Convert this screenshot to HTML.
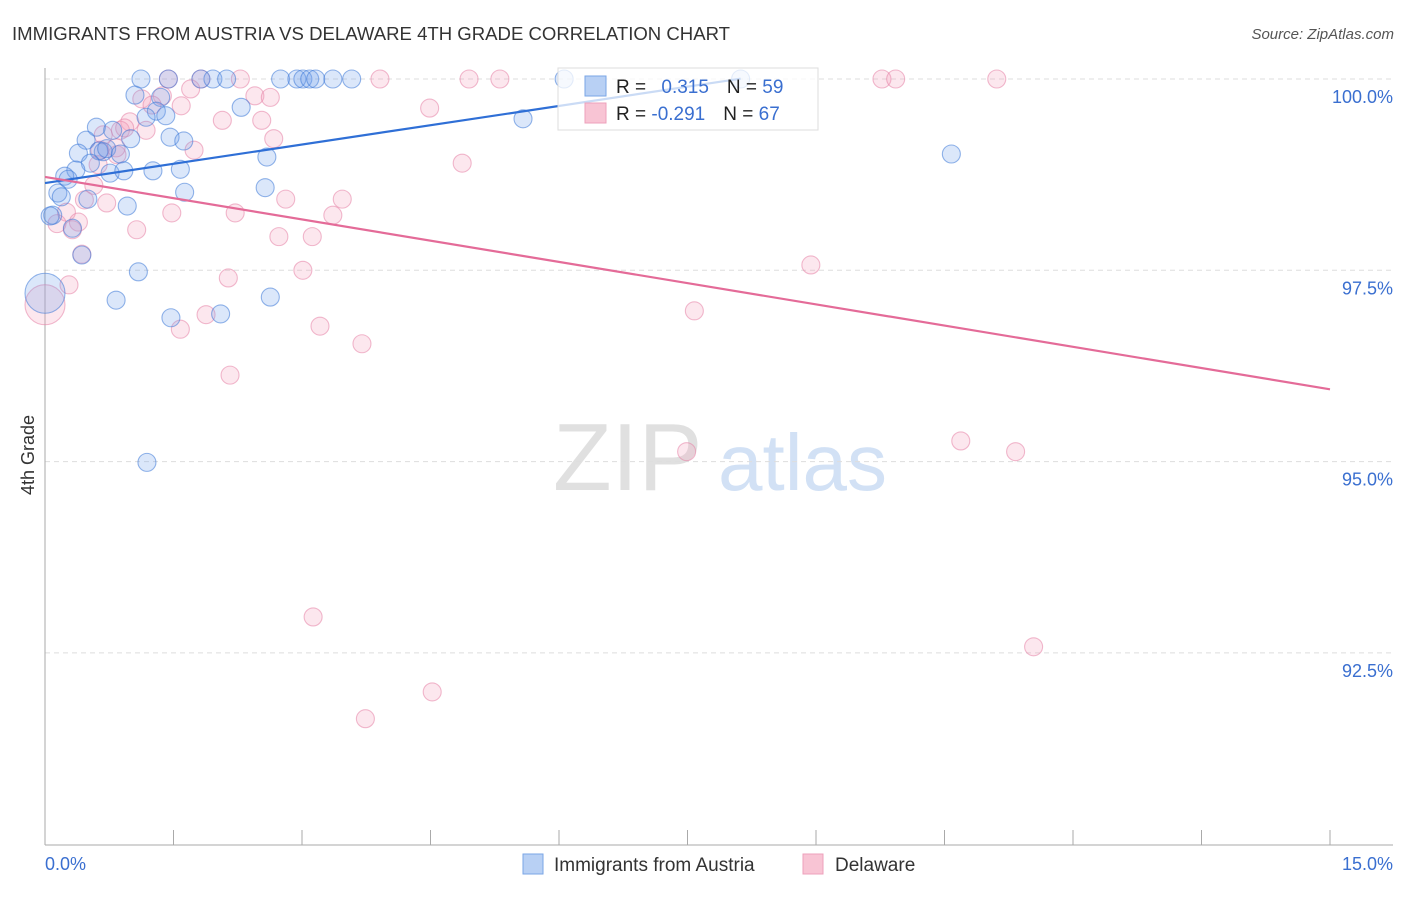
<!DOCTYPE html>
<html><head><meta charset="utf-8"><style>
body{margin:0;background:#fff;font-family:"Liberation Sans",sans-serif}
svg text{font-family:"Liberation Sans",sans-serif}
</style></head><body>
<svg id="c" width="1406" height="892" viewBox="0 0 1406 892">
<text x="12" y="40" font-size="18" fill="#333" textLength="718" lengthAdjust="spacingAndGlyphs">IMMIGRANTS FROM AUSTRIA VS DELAWARE 4TH GRADE CORRELATION CHART</text>
<text x="1394" y="39" font-size="15" fill="#555" font-style="italic" text-anchor="end">Source: ZipAtlas.com</text>
<g>
<text x="553" y="490" font-size="96" font-family="Liberation Serif" fill="#e0e0e0">ZIP</text>
<text x="718" y="490" font-size="80" fill="#d2e1f5">atlas</text>
</g>
<g id="grid"></g><g id="axes"></g><g id="pts"></g><g id="lines"></g>
<text transform="translate(34,455) rotate(-90)" font-size="18" fill="#333" text-anchor="middle">4th Grade</text>
<g>
<rect x="558" y="68" width="260" height="62" fill="rgba(255,255,255,0.75)" stroke="#ddd"/>
<rect x="585" y="76" width="21" height="20" fill="#b8d0f4" stroke="#7aa6e6"/>
<rect x="585" y="103" width="21" height="20" fill="#f8c4d4" stroke="#eea0bb"/>
<text x="616" y="93" font-size="19" fill="#222">R = <tspan fill="#3a6fd0" dx="10">0.315</tspan><tspan dx="18" fill="#222">N = </tspan><tspan fill="#3a6fd0">59</tspan></text>
<text x="616" y="120" font-size="19" fill="#222">R = <tspan fill="#3a6fd0">-0.291</tspan><tspan dx="18" fill="#222">N = </tspan><tspan fill="#3a6fd0">67</tspan></text>
</g>
<g>
<rect x="523" y="854" width="20" height="20" fill="#b8d0f4" stroke="#7aa6e6"/>
<text x="554" y="871" font-size="19" fill="#333">Immigrants from Austria</text>
<rect x="803" y="854" width="20" height="20" fill="#f8c4d4" stroke="#eea0bb"/>
<text x="835" y="871" font-size="19" fill="#333">Delaware</text>
</g>
</svg>
<script>
const blueX=[1.12,1.44,1.82,1.96,2.12,2.75,2.94,3.01,3.09,3.16,3.36,3.58,6.06,8.12,1.05,1.35,2.29,1.30,1.18,1.41,5.58,0.60,0.79,1.46,1.62,1.00,0.48,0.39,0.68,0.63,0.72,0.88,2.59,10.58,0.53,0.36,0.76,0.92,1.26,1.58,0.23,0.27,2.57,1.63,0.15,0.19,0.50,0.96,0.09,0.06,0.32,0.43,1.09,0.83,2.63,1.47,2.05,1.19,0];
const blueY=[100,100,100,100,100,100,100,100,100,100,100,100,100,100,99.79,99.76,99.63,99.58,99.50,99.52,99.48,99.37,99.33,99.24,99.19,99.22,99.20,99.03,99.05,99.06,99.09,99.02,98.98,99.02,98.90,98.81,98.77,98.80,98.80,98.82,98.73,98.69,98.58,98.52,98.51,98.46,98.43,98.34,98.22,98.21,98.05,97.70,97.48,97.11,97.15,96.88,96.93,94.99,97.20];
const pinkX=[1.44,1.82,2.28,3.91,4.95,5.31,9.77,9.93,11.11,1.70,1.13,1.37,2.45,2.63,1.59,1.25,4.49,2.07,2.53,0.99,0.88,1.18,0.68,2.67,0.64,0.84,1.74,4.87,0.62,0.57,2.81,3.47,0.72,0.25,1.48,2.22,3.36,0.39,0.14,0.32,1.07,2.73,3.12,0.43,3.01,8.94,2.14,0.28,7.58,1.88,1.58,3.21,3.70,2.16,7.49,10.69,11.33,3.13,11.54,4.52,3.74,0,0.46,0.83,0.93];
const pinkY=[100,100,100,100,100,100,100,100,100,99.87,99.74,99.78,99.78,99.76,99.65,99.66,99.62,99.46,99.46,99.44,99.33,99.33,99.27,99.22,99.07,99.01,99.07,98.90,98.88,98.61,98.43,98.43,98.38,98.26,98.25,98.25,98.22,98.13,98.11,98.03,98.03,97.94,97.94,97.71,97.50,97.57,97.40,97.31,96.97,96.92,96.73,96.77,96.54,96.13,95.13,95.27,95.13,92.97,92.58,91.99,91.64,97.05,98.42,99.10,99.36];
const yTicks=[100,97.5,95,92.5];
const yTickLabels=["100.0%","97.5%","95.0%","92.5%"];
const xTickLabels=["0.0%","15.0%"];
const blueTrend=[98.64,0.168,8.12];
const pinkTrend=[98.72,-0.185,15];
const NS="http://www.w3.org/2000/svg";
const sx=v=>45+v*1285/15, sy=v=>79+(100-v)*191.3/2.5;
function mk(p,t,a){const e=document.createElementNS(NS,t);for(const k in a)e.setAttribute(k,a[k]);p.appendChild(e);return e;}
const grid=document.getElementById('grid'),axes=document.getElementById('axes'),pts=document.getElementById('pts'),lines=document.getElementById('lines');
yTicks.forEach((v,i)=>{
 const l=mk(grid,'line',{x1:45,x2:1393,y1:sy(v),y2:sy(v),stroke:'#ddd','stroke-dasharray':'5,4'});
 
 
 const t=mk(axes,'text',{x:1393,y:sy(v)+24,'font-size':18,fill:'#3a6fd0','text-anchor':'end'});
 t.textContent=yTickLabels[i];
 
 
});
const ya=mk(axes,'line',{x1:45,x2:45,y1:68,y2:845,stroke:'#aaa'});


const xa=mk(axes,'line',{x1:45,x2:1393,y1:845,y2:845,stroke:'#aaa'});


for(let i=0;i<=10;i++){const tk=mk(axes,'line',{x1:sx(i*1.5),x2:sx(i*1.5),y1:830,y2:845,stroke:'#aaa'});
 
 }
const t0=mk(axes,'text',{x:45,y:870,'font-size':18,fill:'#3a6fd0'});t0.textContent=xTickLabels[0];


const t1=mk(axes,'text',{x:1393,y:870,'font-size':18,fill:'#3a6fd0','text-anchor':'end'});t1.textContent=xTickLabels[1];


function draw(X,Y,fill,stroke,name){X.forEach((x,i)=>{const c=mk(pts,'circle',{cx:sx(x),cy:sy(Y[i]),r:x===0?20:9,fill:fill,stroke:stroke,'stroke-width':1.1});
 
 });}
draw(pinkX,pinkY,'rgba(244,160,188,0.25)','rgba(230,130,165,0.55)','delaware-point');
draw(blueX,blueY,'rgba(110,160,235,0.25)','rgba(60,120,215,0.55)','austria-point');
const bl=mk(lines,'line',{x1:sx(0),y1:sy(blueTrend[0]),x2:sx(blueTrend[2]),y2:sy(blueTrend[0]+blueTrend[1]*blueTrend[2]),stroke:'#2f6fd6','stroke-width':2.2});


const pl=mk(lines,'line',{x1:sx(0),y1:sy(pinkTrend[0]),x2:sx(pinkTrend[2]),y2:sy(pinkTrend[0]+pinkTrend[1]*pinkTrend[2]),stroke:'#e46b98','stroke-width':2.2});


</script>
</body></html>
